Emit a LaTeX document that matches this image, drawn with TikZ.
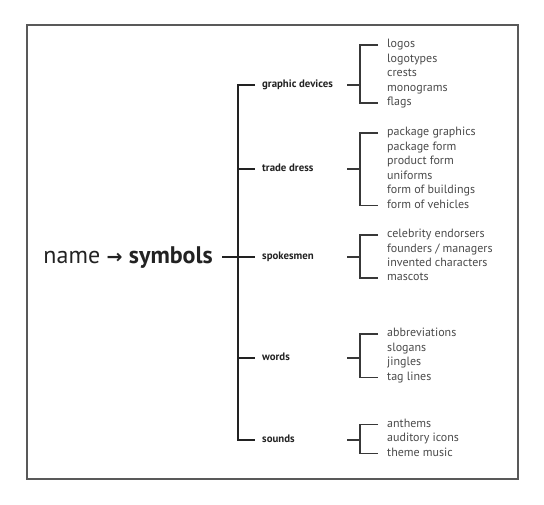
\documentclass[tikz,border=0pt]{standalone}
\usepackage{fontspec}
\setmainfont{PT Sans}
\newfontfamily\arrowfont{DejaVu Sans}
\usetikzlibrary{positioning}
\definecolor{itemgray}{HTML}{4A4A4A}
\definecolor{inkdark}{HTML}{222222}

\begin{document}
\begin{tikzpicture}[
    x=1pt, y=-1pt,
    rootlabel/.style={anchor=base east, inner sep=0pt, font=\fontsize{24}{27}\selectfont, text=inkdark},
    branch/.style={anchor=west, inner sep=0pt, text height=7.5pt, text depth=2.5pt, font=\fontsize{10.8}{12}\selectfont\bfseries, text=inkdark},
    item/.style={anchor=west, inner sep=0pt, text height=8pt, text depth=2.5pt, font=\fontsize{12}{14}\selectfont, text=itemgray},
    trunk/.style={line width=1.9pt, inkdark},
    twig/.style={line width=1.4pt, inkdark!90},
    frame/.style={draw=black!65, line width=1.4pt}
]
\useasboundingbox (0,0) rectangle (544,504);

% 1. Outer frame
\draw[frame] (27,25) rectangle (518,479);

% 2. Root label
\node[rootlabel] (root) at (213,263) {name {\arrowfont\bfseries\fontsize{19}{22}\selectfont →} \textbf{symbols}};

% 3. Branch labels (x positions of trunk and brackets as coordinates)
\coordinate (trunkx) at (238,0);
\coordinate (stubx) at (347,0);
\coordinate (brx) at (360,0);

\node[branch] (gd) at (262,85) {graphic devices};
\node[branch] (td) at (262,169) {trade dress};
\node[branch] (sp) at (262,257) {spokesmen};
\node[branch] (wd) at (262,358) {words};
\node[branch] (sd) at (262,440) {sounds};

% 4. Trunk
\draw[trunk] ([xshift=-7pt]gd.west) -- (gd -| trunkx) -- (sd -| trunkx) -- ([xshift=-7pt]sd.west);
\draw[trunk] (td -| trunkx) -- ([xshift=-7pt]td.west);
\draw[trunk] (wd -| trunkx) -- ([xshift=-7pt]wd.west);
\draw[trunk] ([xshift=9pt]root.east |- sp) -- ([xshift=-7pt]sp.west);

% 5. graphic devices
\node[item] (gd1) at (387,45) {logos};
\node[item] (gd2) at (387,59.5) {logotypes};
\node[item] (gd3) at (387,74) {crests};
\node[item] (gd4) at (387,88.5) {monograms};
\node[item] (gd5) at (387,103) {flags};
\draw[twig] ([xshift=-9pt]gd1.west) -- (gd1 -| brx) -- (gd5 -| brx) -- ([xshift=-9pt]gd5.west);
\draw[twig] (gd -| stubx) -- (gd -| brx);

% 6. trade dress
\node[item] (td1) at (387,133) {package graphics};
\node[item] (td2) at (387,147.5) {package form};
\node[item] (td3) at (387,162) {product form};
\node[item] (td4) at (387,176.5) {uniforms};
\node[item] (td5) at (387,191) {form of buildings};
\node[item] (td6) at (387,205.5) {form of vehicles};
\draw[twig] ([xshift=-9pt]td1.west) -- (td1 -| brx) -- (td6 -| brx) -- ([xshift=-9pt]td6.west);
\draw[twig] (td -| stubx) -- (td -| brx);

% 7. spokesmen
\node[item] (sp1) at (387,235) {celebrity endorsers};
\node[item] (sp2) at (387,249.3) {founders / managers};
\node[item] (sp3) at (387,263.6) {invented characters};
\node[item] (sp4) at (387,278) {mascots};
\draw[twig] ([xshift=-9pt]sp1.west) -- (sp1 -| brx) -- (sp4 -| brx) -- ([xshift=-9pt]sp4.west);
\draw[twig] (sp -| stubx) -- (sp -| brx);

% 8. words
\node[item] (wd1) at (387,334) {abbreviations};
\node[item] (wd2) at (387,348.5) {slogans};
\node[item] (wd3) at (387,363) {jingles};
\node[item] (wd4) at (387,377.5) {tag lines};
\draw[twig] ([xshift=-9pt]wd1.west) -- (wd1 -| brx) -- (wd4 -| brx) -- ([xshift=-9pt]wd4.west);
\draw[twig] (wd -| stubx) -- (wd -| brx);

% 9. sounds
\node[item] (sd1) at (387,424.5) {anthems};
\node[item] (sd2) at (387,439) {auditory icons};
\node[item] (sd3) at (387,453.5) {theme music};
\draw[twig] ([xshift=-9pt]sd1.west) -- (sd1 -| brx) -- (sd3 -| brx) -- ([xshift=-9pt]sd3.west);
\draw[twig] (sd -| stubx) -- (sd -| brx);

\end{tikzpicture}
\end{document}
